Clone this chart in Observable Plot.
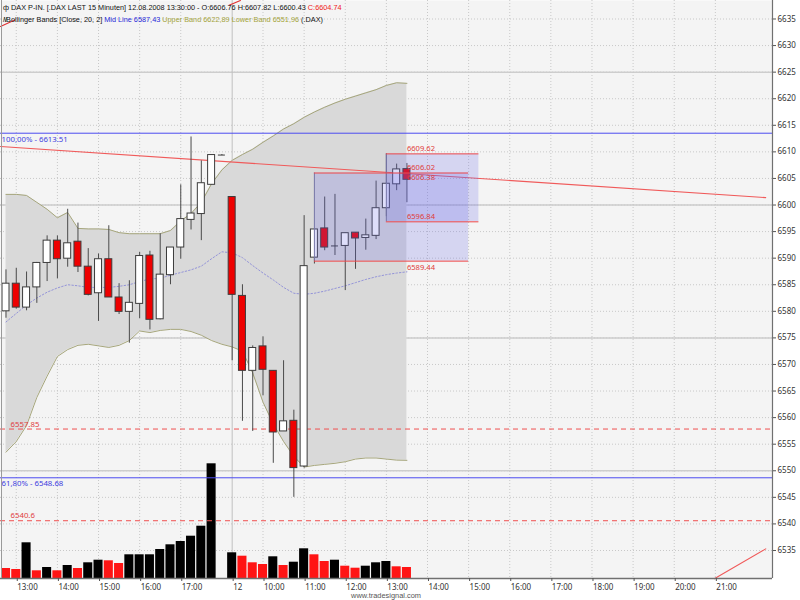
<!DOCTYPE html>
<html><head><meta charset="utf-8">
<script src="https://cdn.jsdelivr.net/npm/d3@7"></script>
<script src="https://cdn.jsdelivr.net/npm/@observablehq/plot@0.6"></script>
<style>
body{margin:0;background:#fff;}
#wrap{position:relative;width:800px;height:600px;overflow:hidden;font-family:"Liberation Sans",Arial,sans-serif;background:#fff;}
#wrap svg{position:absolute;left:0;top:0;}
.hdr{position:absolute;left:3px;font-size:7.3px;color:#111;white-space:nowrap;line-height:10px;}
.wm{position:absolute;top:591px;left:0;width:772px;text-align:center;font-size:7.4px;color:#555;}
</style></head><body><div id="wrap"></div>
<script>
// ---- data (15-minute bars, index 0 = 11.08. 12:45) ----
const open  = [6580.0,6585.2,6580.7,6584.5,6589.1,6593.3,6589.9,6593.1,6588.4,6583.4,6589.8,6582.6,6579.9,6581.4,6590.5,6578.5,6586.8,6592.0,6597.2,6598.3,6603.8,6609.4,6601.5,6582.9,6568.8,6573.4,6568.8,6557.4,6559.4,6550.8,6590.1,6595.6,6592.3,6592.3,6594.8,6593.8,6594.2,6599.4,6603.9,6606.76];
const high  = [6587.8,6588.1,6587.4,6589.2,6594.2,6594.2,6599.2,6596.6,6591.8,6590.8,6596.1,6585.2,6585.75,6591.1,6591.3,6594.6,6592.0,6603.8,6612.8,6608.3,6609.4,6609.5,6601.5,6585.0,6573.5,6575.2,6568.8,6570.7,6561.4,6598.0,6595.4,6601.5,6602.0,6594.7,6594.8,6597.35,6604.5,6609.62,6607.7,6607.82];
const low   = [6578.7,6580.4,6580.1,6581.5,6585.6,6586.1,6588.3,6587.3,6582.9,6578.1,6582.6,6579.4,6574.0,6578.6,6576.5,6578.4,6585.0,6589.8,6595.3,6593.3,6603.8,6609.3,6570.7,6559.3,6557.4,6564.1,6551.4,6557.4,6545.0,6550.5,6588.9,6591.4,6590.5,6583.9,6587.9,6591.5,6593.5,6597.8,6602.7,6600.43];
const close = [6585.2,6580.7,6584.5,6589.1,6593.3,6589.8,6592.8,6588.4,6583.1,6589.8,6582.6,6579.9,6581.6,6590.4,6578.4,6586.9,6592.0,6597.35,6598.4,6604.1,6609.4,6609.4,6583.1,6568.8,6573.1,6569.0,6557.2,6559.3,6550.5,6588.5,6595.4,6592.0,6592.3,6594.7,6593.7,6594.3,6599.4,6604.0,6606.7,6604.74];
const volume = [10,9,35.7,7.7,11,7.7,13,10,15.7,18.3,17.7,15,23.7,23.7,23.7,29,33.7,37,42.3,52.3,114.7,0,25.7,22.3,15.7,14,21.7,13,16.3,29.7,23.7,17,18.3,12.3,10.3,12.3,15.7,17,11.7,11];
const volumeDir = ["dn","dn","up","dn","up","dn","up","dn","up","up","dn","dn","up","up","up","up","up","up","up","up","up","up","up","dn","dn","dn","up","dn","up","up","dn","dn","up","dn","dn","up","up","up","dn","dn"];
const upperBand = [6602.0,6602.0,6601.8,6600.5,6599.2,6597.6,6598.6,6595.6,6595.5,6595.5,6595.4,6594.8,6594.6,6594.6,6594.6,6594.6,6595.2,6597.0,6598.4,6600.5,6604.0,6606.6,6608.4,6609.5,6610.5,6611.8,6613.0,6614.3,6615.3,6616.5,6617.5,6618.4,6619.2,6619.9,6620.5,6621.1,6621.7,6622.5,6623.0,6622.89];
const lowerBand = [6553.5,6555.5,6558.5,6563.8,6567.8,6571.5,6572.8,6573.6,6573.8,6573.5,6573.2,6573.6,6574.5,6576.3,6576.0,6576.4,6576.6,6576.6,6576.2,6575.5,6574.5,6573.8,6573.3,6572.5,6568.4,6562.9,6558.8,6555.5,6552.7,6550.7,6551.0,6551.2,6551.4,6551.7,6552.2,6552.4,6552.4,6552.2,6552.0,6551.96];
const midLine   = [6578.0,6579.6,6581.2,6582.5,6583.6,6584.4,6585.0,6584.8,6584.5,6584.5,6584.5,6584.7,6585.0,6585.6,6586.1,6586.2,6586.8,6587.3,6587.8,6588.5,6589.9,6591.2,6591.0,6590.1,6588.6,6587.2,6585.9,6584.5,6583.4,6583.2,6583.4,6583.8,6584.3,6584.8,6585.4,6586.0,6586.5,6586.9,6587.2,6587.43];

const xTickIndex  = [1,5,9,13,17,22,25,29,33,37,41,45,49,53,57,61,65,69];
const xTickLabels = ["13:00","14:00","15:00","16:00","17:00","12","10:00","11:00","12:00","13:00","14:00","15:00","16:00","17:00","18:00","19:00","20:00","21:00"];
const dayBreak = 22;
const yTicks = [6535,6540,6545,6550,6555,6560,6565,6570,6575,6580,6585,6590,6595,6600,6605,6610,6615,6620,6625,6630,6635];
const yMajor = [6550,6575,6600,6625];

const fibValues = [6613.51, 6548.68];
const fibLabels = ["100,00% - 6613.51", "61,80% - 6548.68"];
const levelValues = [6557.85, 6540.6];
const levelLabels = ["6557.85", "6540.6"];

// trend lines: [index, price] end points
const trendMain  = [[-0.535, 6611.0], [73.9, 6601.4]];
const trendLow   = [[68.9, 6529.7], [73.9, 6535.3]];
const trendTopL  = [[-0.535, 6633.6], [0.85, 6634.8]];
const trendTopM  = [[21.7, 6637.6], [22.8, 6638.48]];

// projection boxes
const boxStart = [30, 37];
const boxEnd   = [45, 46];
const boxTop   = [6606.02, 6609.62];
const boxBot   = [6589.44, 6596.84];
const labelsAboveVals  = [6609.62, 6606.02, 6596.84];
const labelsAboveTexts = ["6609.62", "6606.02", "6596.84"];
const labelsBelowVals  = [6606.38, 6589.44];
const labelsBelowTexts = ["6606.38", "6589.44"];

// ---- layout ----
const W = 800, H = 600;
const xDom = [-0.535, 74.56], yDom = [6529.73, 6638.48];
const base = {width: W, height: H, marginLeft: 0, marginRight: 28, marginTop: 0, marginBottom: 22,
  style: {background: "transparent", overflow: "visible"}};
const idx = d3.range(open.length);

// layer 1: background + grid
const bg = Plot.plot({...base,
  x: {type: "linear", domain: xDom, axis: null},
  y: {domain: yDom, axis: null},
  marks: [
    Plot.frame({fill: "#f4f4f4", stroke: null}),
    Plot.ruleY(yTicks, {stroke: "#c8c8c8", strokeDasharray: "1,2"}),
    Plot.ruleY(yMajor, {stroke: "#cdcdcd", strokeWidth: 1.5}),
    Plot.ruleX(xTickIndex.filter(d => d !== dayBreak), {stroke: "#c8c8c8", strokeDasharray: "1,2"}),
    Plot.ruleX([dayBreak], {stroke: "#c0c0c0", strokeWidth: 1})
  ]});

// layer 2: volume
const vol = Plot.plot({...base,
  x: {type: "linear", domain: xDom, axis: null},
  y: {domain: [0, 578], axis: null},
  color: {type: "identity"},
  marks: [
    Plot.rect(idx.filter(i => volume[i] > 0), {
      x1: i => i - 0.44, x2: i => i + 0.44, y1: 0, y2: i => volume[i],
      fill: i => volumeDir[i] === "up" ? "#000000" : "#ff1414"})
  ]});

// layer 3: price
const bodyIdx = idx.filter(i => Math.abs(open[i] - close[i]) > 0.05);
const dojiIdx = idx.filter(i => Math.abs(open[i] - close[i]) <= 0.05);
const seg = (pts, opts) => Plot.line(pts, {x: d => d[0], y: d => d[1], ...opts});
const main = Plot.plot({...base,
  x: {type: "linear", domain: xDom},
  y: {domain: yDom},
  color: {type: "identity"},
  marks: [
    Plot.areaY(idx, {x: i => i, y1: i => lowerBand[i], y2: i => upperBand[i], fill: "#d9d9d9", curve: "linear"}),
    Plot.line(idx, {x: i => i, y: i => upperBand[i], stroke: "#a6a67c", strokeWidth: 1}),
    Plot.line(idx, {x: i => i, y: i => lowerBand[i], stroke: "#a6a67c", strokeWidth: 1}),
    Plot.line(idx, {x: i => i, y: i => midLine[i], stroke: "#9494d8", strokeWidth: 1, strokeDasharray: "1.5,2"}),
    Plot.ruleY(fibValues, {stroke: "#4b4bf0", strokeWidth: 1}),
    Plot.ruleY(levelValues, {stroke: "#f05050", strokeWidth: 1, strokeDasharray: "5,4"}),
    seg(trendMain, {stroke: "#f05a5a", strokeWidth: 1.1}),
    seg(trendLow, {stroke: "#f05a5a", strokeWidth: 1.1}),
    seg(trendTopL, {stroke: "#e03030", strokeWidth: 1.1}),
    seg(trendTopM, {stroke: "#e03030", strokeWidth: 1.1}),
    // candles
    Plot.ruleX(idx, {x: i => i, y1: i => low[i], y2: i => high[i], stroke: "#4a4a4a", strokeWidth: 1}),
    Plot.rect(bodyIdx, {x1: i => i - 0.34, x2: i => i + 0.34, y1: i => open[i], y2: i => close[i],
      fill: i => close[i] >= open[i] ? "#ffffff" : "#ee0000", stroke: "#3c3c3c", strokeWidth: 1}),
    Plot.ruleY(dojiIdx, {x1: i => i - 0.34, x2: i => i + 0.34, y: i => close[i], stroke: "#3c3c3c", strokeWidth: 1}),
    // boxes
    Plot.rect([0, 1], {x1: k => boxStart[k], x2: k => boxEnd[k], y1: k => boxBot[k], y2: k => boxTop[k],
      fill: "#6a6ae6", fillOpacity: 0.22}),
    Plot.ruleX([0, 1], {x: k => boxStart[k], y1: k => boxBot[k], y2: k => boxTop[k], stroke: "#7878a8", strokeWidth: 1}),
    Plot.ruleY([0, 1], {y: k => boxTop[k], x1: k => boxStart[k], x2: k => boxEnd[k], stroke: "#f04848", strokeWidth: 1}),
    Plot.ruleY([0, 1], {y: k => boxBot[k], x1: k => boxStart[k], x2: k => boxEnd[k], stroke: "#f04848", strokeWidth: 1}),
    Plot.text(labelsAboveVals, {x: 39, y: d => d, text: (d, k) => labelsAboveTexts[k],
      dy: -5, textAnchor: "start", fill: "#e03c3c", fontSize: 7.6}),
    Plot.text(labelsBelowVals, {x: 39, y: d => d, text: (d, k) => labelsBelowTexts[k],
      dy: 6, textAnchor: "start", fill: "#e03c3c", fontSize: 7.6}),
    // level labels
    Plot.text([0, 1], {x: xDom[0], y: k => fibValues[k], text: k => fibLabels[k], dy: 6, dx: 1,
      textAnchor: "start", fill: "#4040e0", fontSize: 7.8}),
    Plot.text([0, 1], {x: xDom[0], y: k => levelValues[k], text: k => levelLabels[k], dy: -5, dx: 10,
      textAnchor: "start", fill: "#e04040", fontSize: 7.8}),
    // frame edges
    Plot.ruleY([yDom[0]], {stroke: "#707070", strokeWidth: 1.5}),
    Plot.ruleX([xDom[1]], {stroke: "#707070", strokeWidth: 1.2}),
    Plot.ruleX([xDom[0]], {stroke: "#9a9a9a", strokeWidth: 1, dx: 1}),
    // axes
    Plot.axisY(yTicks, {anchor: "right", tickSize: 3, tickPadding: 2, fontSize: 8, fill: "#333", stroke: "#555",
      tickFormat: d => String(d)}),
    Plot.axisX(xTickIndex, {anchor: "bottom", tickSize: 3, tickPadding: 3, fontSize: 8, fill: "#333", stroke: "#555",
      textAnchor: "start", dx: 1, tickFormat: d => xTickLabels[xTickIndex.indexOf(d)]})
  ]});

const wrap = document.getElementById("wrap");
wrap.appendChild(bg);
wrap.appendChild(vol);
wrap.appendChild(main);

const h1 = document.createElement("div");
h1.className = "hdr"; h1.style.top = "3px";
h1.innerHTML = 'ф DAX P-IN. [.DAX LAST 15 Minuten] 12.08.2008 13:30:00 - O:6606.76 H:6607.82 L:6600.43 <span style="color:#f02020">C:6604.74</span>';
const h2 = document.createElement("div");
h2.className = "hdr"; h2.style.top = "15px";
h2.innerHTML = '<span style="letter-spacing:-1px">/\\/</span>Bollinger Bands [Close, 20, 2] <span style="color:#2828d8">Mid Line 6587,43</span> <span style="color:#a4a43c">Upper Band 6622,89</span> <span style="color:#a4a43c">Lower Band 6551,96</span> (.DAX)';
const wm = document.createElement("div");
wm.className = "wm"; wm.textContent = "www.tradesignal.com";
wrap.appendChild(h1); wrap.appendChild(h2); wrap.appendChild(wm);
</script></body></html>
